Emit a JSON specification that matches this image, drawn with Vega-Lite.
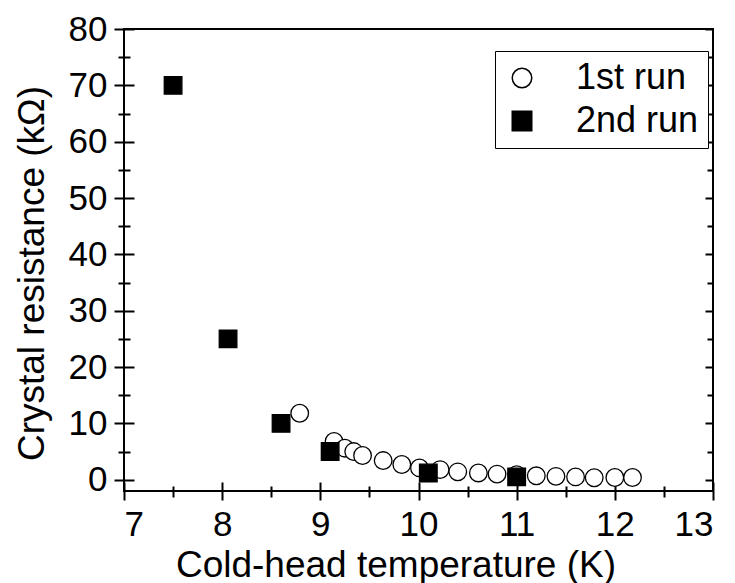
{
  "$schema": "https://vega.github.io/schema/vega-lite/v6.json",
  "autosize": "none",
  "width": 589,
  "height": 462,
  "padding": {"left": 124, "top": 29, "right": 22, "bottom": 92},
  "background": "white",
  "config": {
    "view": {"stroke": "black", "strokeWidth": 2},
    "font": "Liberation Sans",
    "axis": {
      "domain": false, "tickColor": "black", "tickWidth": 2, "gridColor": "black", "gridWidth": 2, "gridOpacity": 1, "gridCap": "butt",
      "labelColor": "black", "titleColor": "black", "labelFont": "Liberation Sans", "titleFont": "Liberation Sans",
      "labelFontSize": 35, "titleFontSize": 37, "titleFontWeight": "normal", "grid": false, "labelPadding": 7
    },
    "legend": {
      "strokeColor": "black", "fillColor": "white",
      "padding": 9, "symbolOffset": 0, "labelOffset": 36, "rowPadding": 7, "labelFontSize": 36, "labelFont": "Liberation Sans", "labelColor": "black",
      "symbolSize": 380, "symbolStrokeColor": "black", "symbolStrokeWidth": 1.5, "cornerRadius": 0
    }
  },
  "datasets": {
    "pts": [
      {"run": "1st run", "t": 8.79, "r": 11.8},
      {"run": "1st run", "t": 9.14, "r": 6.8},
      {"run": "1st run", "t": 9.25, "r": 5.6},
      {"run": "1st run", "t": 9.34, "r": 5.0},
      {"run": "1st run", "t": 9.43, "r": 4.3},
      {"run": "1st run", "t": 9.64, "r": 3.4},
      {"run": "1st run", "t": 9.83, "r": 2.7},
      {"run": "1st run", "t": 10.01, "r": 2.1},
      {"run": "1st run", "t": 10.22, "r": 1.8},
      {"run": "1st run", "t": 10.40, "r": 1.4},
      {"run": "1st run", "t": 10.61, "r": 1.2},
      {"run": "1st run", "t": 10.80, "r": 1.0},
      {"run": "1st run", "t": 11.0, "r": 0.9},
      {"run": "1st run", "t": 11.20, "r": 0.7},
      {"run": "1st run", "t": 11.40, "r": 0.6},
      {"run": "1st run", "t": 11.60, "r": 0.5},
      {"run": "1st run", "t": 11.79, "r": 0.35},
      {"run": "1st run", "t": 12.0, "r": 0.4},
      {"run": "1st run", "t": 12.18, "r": 0.4},
      {"run": "2nd run", "t": 7.5, "r": 70},
      {"run": "2nd run", "t": 8.06, "r": 25},
      {"run": "2nd run", "t": 8.6, "r": 10},
      {"run": "2nd run", "t": 9.1, "r": 5},
      {"run": "2nd run", "t": 10.1, "r": 1.2},
      {"run": "2nd run", "t": 11.0, "r": 0.5}
    ]
  },
  "resolve": {"axis": {"x": "independent", "y": "independent"}},
  "layer": [
    {
      "data": {"name": "pts"},
      "mark": {"type": "point", "filled": true, "size": 310, "strokeWidth": 1.3, "opacity": 1},
      "encoding": {
        "x": {"field": "t", "type": "quantitative", "scale": {"domain": [7, 13], "nice": false, "zero": false},
          "axis": {"orient": "bottom", "values": [7, 7.5, 8, 8.5, 9, 9.5, 10, 10.5, 11, 11.5, 12, 12.5, 13],
            "tickSize": {"condition": {"test": "datum.value % 1 === 0", "value": 9}, "value": 6},
            "labelExpr": "datum.value % 1 === 0 ? datum.label : ''", "format": ".0f",
            "title": "Cold-head temperature (K)", "titleX": 271.5, "titleY": 85, "titleAlign": "center", "titleBaseline": "alphabetic"}},
        "y": {"field": "r", "type": "quantitative", "scale": {"domain": [-2, 80], "nice": false, "zero": false},
          "axis": {"orient": "left", "values": [0, 5, 10, 15, 20, 25, 30, 35, 40, 45, 50, 55, 60, 65, 70, 75, 80],
            "tickSize": {"condition": {"test": "datum.value % 10 === 0", "value": 10}, "value": 6},
            "grid": true, "gridDash": {"condition": {"test": "datum.value % 10 === 0", "value": [10, 2000]}, "value": [6, 2000]},
            "labelExpr": "datum.value % 10 === 0 ? datum.label : ''", "format": "d",
            "title": "Crystal resistance (kΩ)", "titleX": -81, "titleY": 244, "titleAngle": -90, "titleAlign": "center", "titleBaseline": "alphabetic"}},
        "shape": {"field": "run", "type": "nominal", "scale": {"domain": ["1st run", "2nd run"], "range": ["circle", "square"]},
          "legend": {"title": null, "orient": "none", "legendX": 371, "legendY": 22}},
        "fill": {"field": "run", "type": "nominal", "scale": {"domain": ["1st run", "2nd run"], "range": ["white", "black"]},
          "legend": {"title": null, "orient": "none", "legendX": 371, "legendY": 22}},
        "stroke": {"field": "run", "type": "nominal", "scale": {"domain": ["1st run", "2nd run"], "range": ["black", "black"]},
          "legend": {"title": null, "orient": "none", "legendX": 371, "legendY": 22}}
      }
    },
    {
      "data": {"name": "pts"},
      "mark": {"type": "point", "opacity": 0},
      "encoding": {
        "x": {"field": "t", "type": "quantitative", "axis": {"orient": "top", "values": [7, 7.5, 8, 8.5, 9, 9.5, 10, 10.5, 11, 11.5, 12, 12.5, 13],
          "ticks": false, "labels": false, "domain": true, "domainOpacity": 0, "title": null,
          "grid": true, "gridDash": {"condition": {"test": "datum.value % 1 === 0", "value": [9, 2000]}, "value": [5, 2000]}}},
        "y": {"field": "r", "type": "quantitative", "axis": {"orient": "right", "values": [0, 5, 10, 15, 20, 25, 30, 35, 40, 45, 50, 55, 60, 65, 70, 75, 80],
          "ticks": false, "labels": false, "domain": true, "domainOpacity": 0, "title": null,
          "grid": true, "gridDash": {"condition": {"test": "datum.value % 10 === 0", "value": [8, 2000]}, "value": [6, 2000]}}}
      }
    }
  ]
}
